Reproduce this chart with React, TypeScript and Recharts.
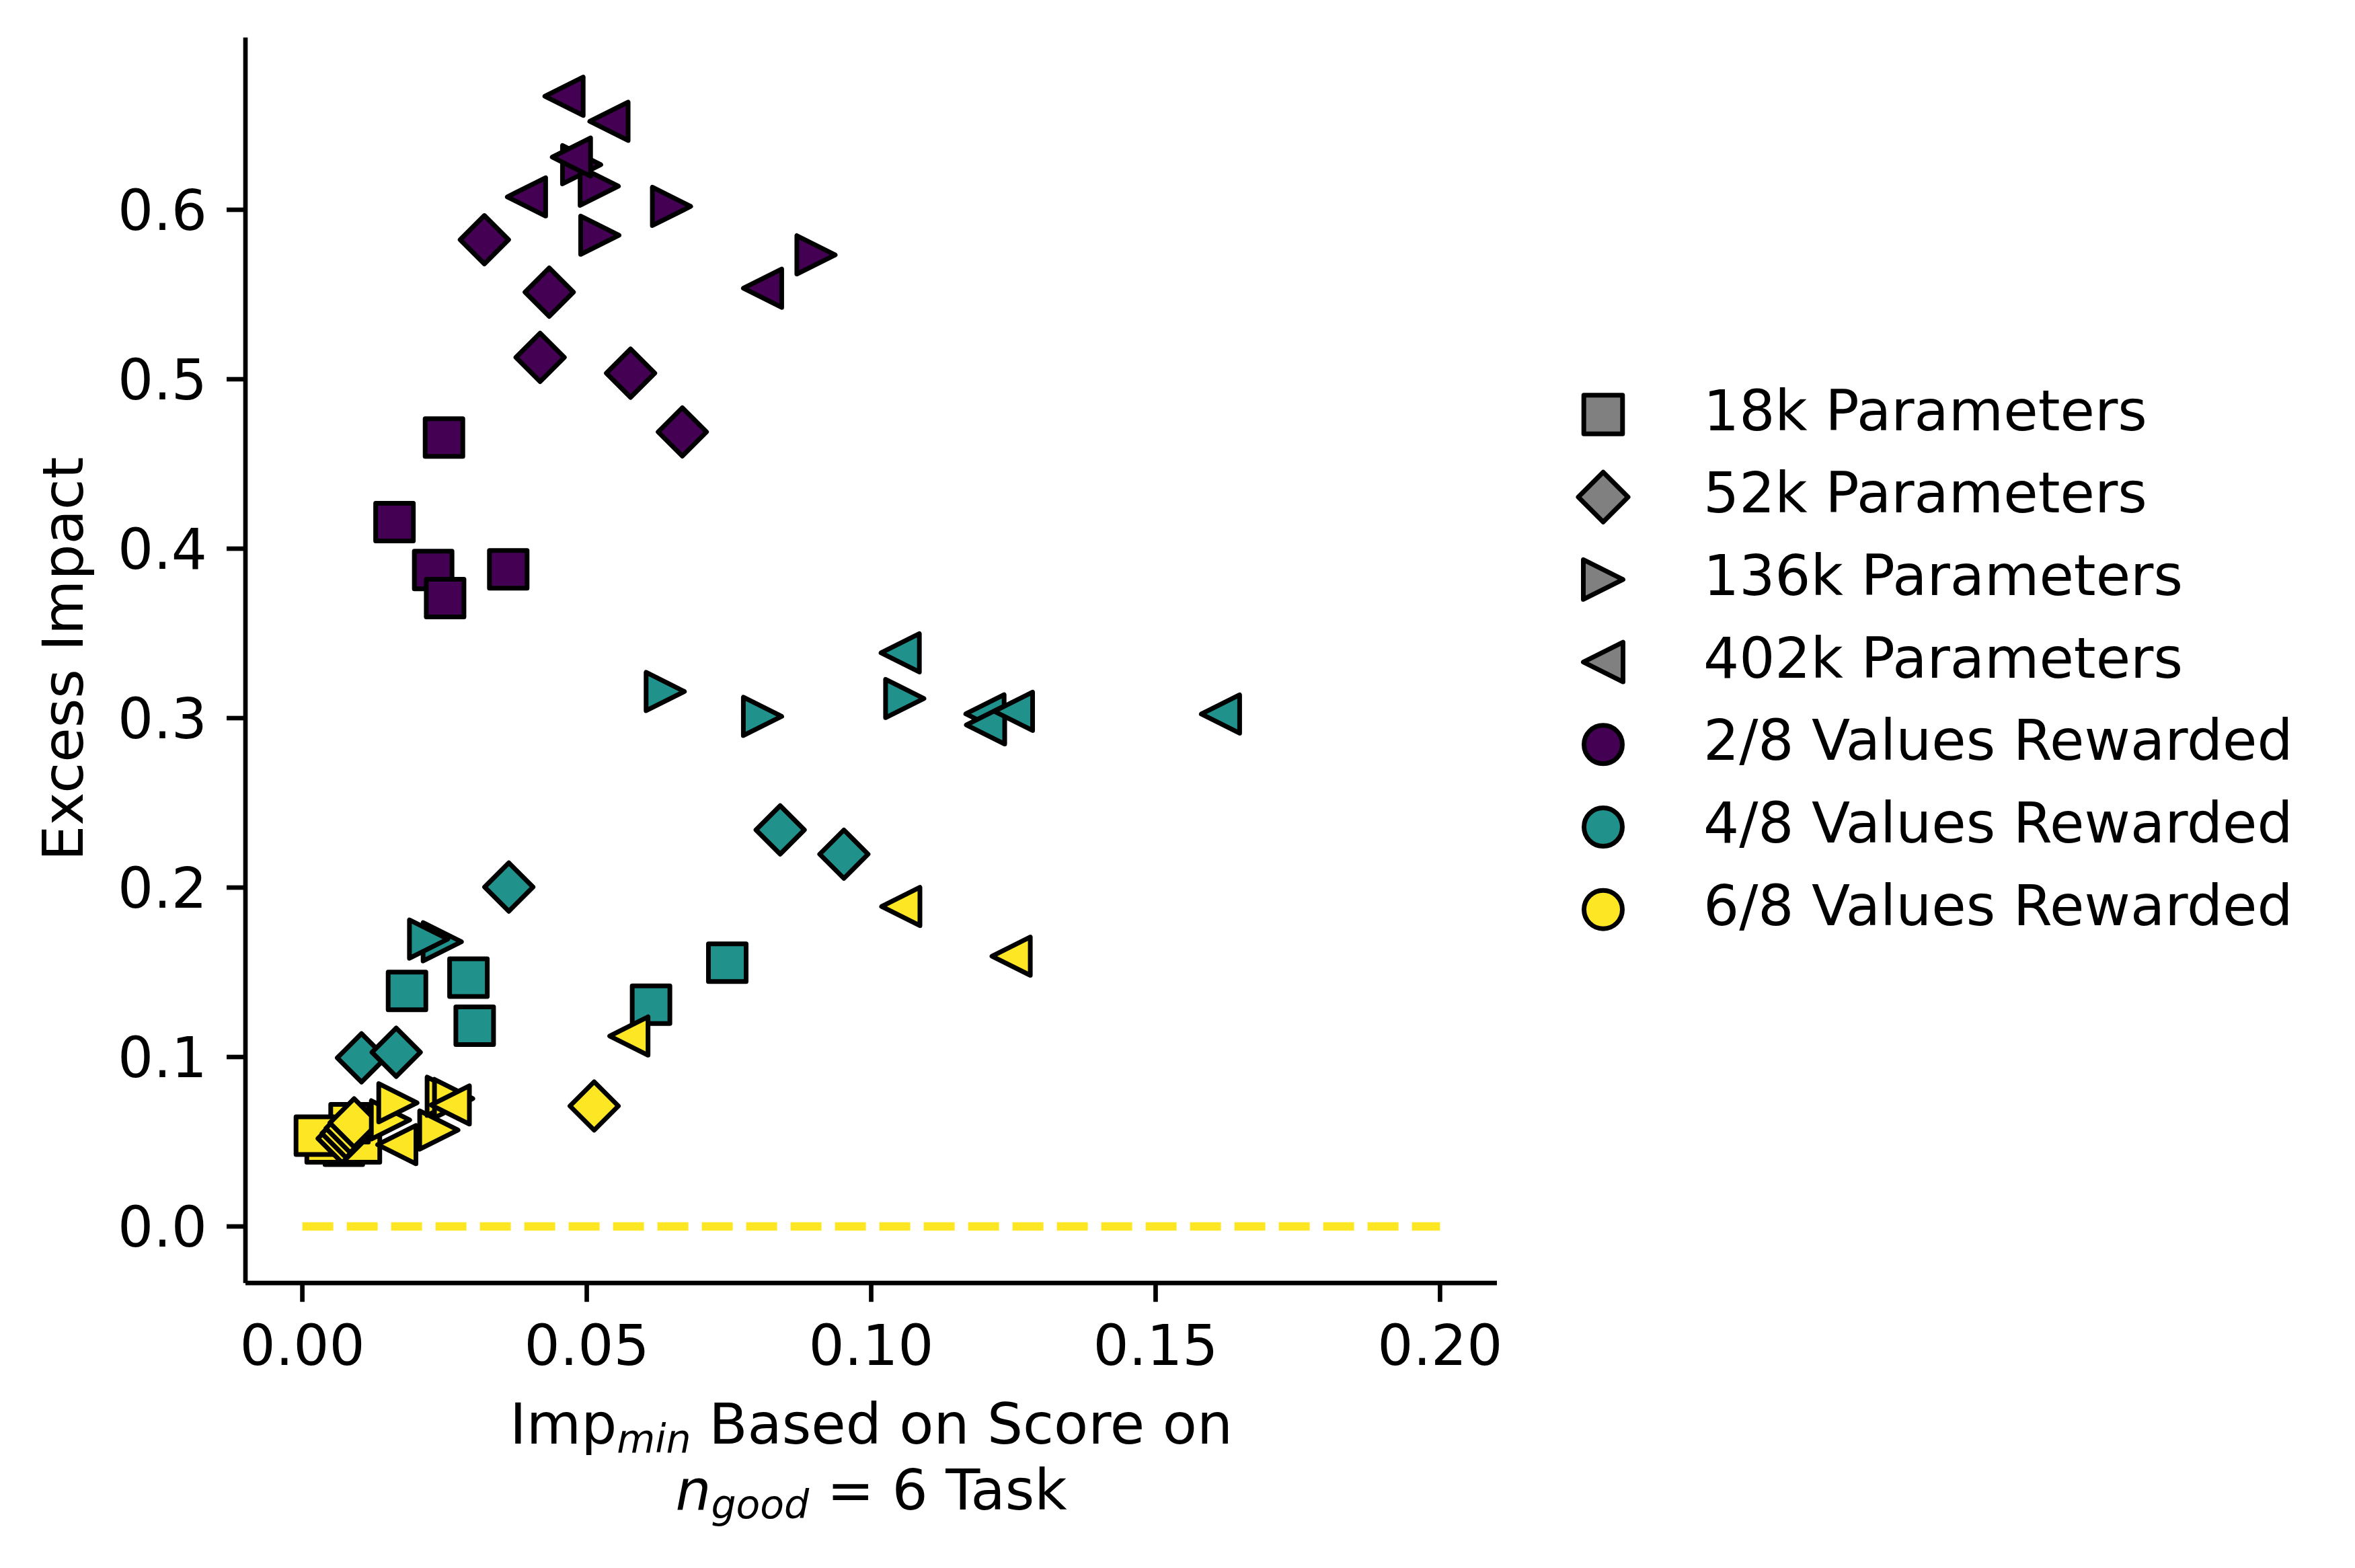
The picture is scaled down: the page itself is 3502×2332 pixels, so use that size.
import React from 'react';
import { ScatterChart, Scatter, XAxis, YAxis, ReferenceLine, Legend, Label } from 'recharts';

// ---- Axis setup ----
const xTicks = [0, 0.05, 0.1, 0.15, 0.2];
const yTicks = [0, 0.1, 0.2, 0.3, 0.4, 0.5, 0.6];
const xDomain: [number, number] = [-0.01, 0.21];
const yDomain: [number, number] = [-0.0334, 0.7017];

// ---- Categories ----
const rewardLabels = ['2/8 Values Rewarded', '4/8 Values Rewarded', '6/8 Values Rewarded'];
const rewardColors = ['#440154', '#21918c', '#fde725'];
const modelLabels = ['18k Parameters', '52k Parameters', '136k Parameters', '402k Parameters'];
const modelShapes = ['square', 'diamond', 'right', 'left'];

// ---- Data: [Imp_min, Excess Impact] ----
// 2/8 values rewarded
const r2_18k = [[0.0249, 0.4656], [0.0162, 0.4157], [0.0230, 0.3874], [0.0251, 0.3708], [0.0362, 0.3878]];
const r2_52k = [[0.0320, 0.5823], [0.0434, 0.5514], [0.0418, 0.5129], [0.0577, 0.5036], [0.0668, 0.4689]];
const r2_136k = [[0.0491, 0.6266], [0.0522, 0.6139], [0.0649, 0.6020], [0.0523, 0.5850], [0.0903, 0.5734]];
const r2_402k = [[0.0460, 0.6670], [0.0539, 0.6522], [0.0473, 0.6311], [0.0394, 0.6076], [0.0809, 0.5537]];
// 4/8 values rewarded
const r4_18k = [[0.0184, 0.1390], [0.0292, 0.1468], [0.0303, 0.1185], [0.0613, 0.1309], [0.0747, 0.1557]];
const r4_52k = [[0.0104, 0.0995], [0.0165, 0.1028], [0.0363, 0.2003], [0.0840, 0.2340], [0.0952, 0.2197]];
const r4_136k = [[0.0246, 0.1680], [0.0222, 0.1696], [0.0638, 0.3157], [0.0809, 0.3010], [0.1059, 0.3116]];
const r4_402k = [[0.1051, 0.3385], [0.1200, 0.3025], [0.1201, 0.2960], [0.1250, 0.3040], [0.1614, 0.3024]];
// 6/8 values rewarded
const r6_18k = [[0.0073, 0.0476], [0.0041, 0.0490], [0.0103, 0.0490], [0.0083, 0.0609], [0.0022, 0.0536]];
const r6_52k = [[0.0070, 0.0519], [0.0077, 0.0549], [0.0084, 0.0579], [0.0091, 0.0611], [0.0513, 0.0711]];
const r6_136k = [[0.0155, 0.0629], [0.0240, 0.0569], [0.0168, 0.0730], [0.0253, 0.0768], [0.0266, 0.0755]];
const r6_402k = [[0.0166, 0.0483], [0.0260, 0.0717], [0.0574, 0.1124], [0.1052, 0.1888], [0.1246, 0.1595]];

// Reference (zero) line
const zeroLineX = [0, 0.2];
const zeroLineY = 0;

const groups = [
  [r2_18k, r2_52k, r2_136k, r2_402k],
  [r4_18k, r4_52k, r4_136k, r4_402k],
  [r6_18k, r6_52k, r6_136k, r6_402k],
];

const FONT = 'DejaVu Sans';
const FS = 83.6;
const EDGE = 7;

function markerEl(kind: string, cx: number, cy: number, fill: string, big = false, key?: string) {
  const s = big ? 28.8 : 28;
  const r = big ? 29.5 : 28.5;
  const d = big ? 37 : 36;
  const common = { fill, stroke: '#000', strokeWidth: EDGE, strokeLinejoin: 'round' as const };
  if (kind === 'square') {
    return <rect key={key} x={cx - s} y={cy - s} width={2 * s} height={2 * s} {...common} />;
  }
  if (kind === 'diamond') {
    return <polygon key={key} points={`${cx},${cy - d} ${cx + d},${cy} ${cx},${cy + d} ${cx - d},${cy}`} {...common} />;
  }
  if (kind === 'right') {
    return <polygon key={key} points={`${cx + r},${cy} ${cx - r},${cy - r} ${cx - r},${cy + r}`} {...common} />;
  }
  if (kind === 'left') {
    return <polygon key={key} points={`${cx - r},${cy} ${cx + r},${cy - r} ${cx + r},${cy + r}`} {...common} />;
  }
  return <circle key={key} cx={cx} cy={cy} r={28.5} {...common} />;
}

const makeShape = (kind: string, fill: string) => (props: any) => {
  const { cx, cy } = props;
  if (cx == null || cy == null) return <g />;
  return markerEl(kind, cx, cy, fill);
};

function LegendContent() {
  const items: { kind: string; color: string; label: string }[] = [];
  modelLabels.forEach((l, i) => items.push({ kind: modelShapes[i], color: '#808080', label: l }));
  rewardLabels.forEach((l, i) => items.push({ kind: 'circle', color: rewardColors[i], label: l }));
  return (
    <svg width={1150} height={880} style={{ overflow: 'visible' }}>
      {items.map((it, i) => {
        const cy = 68.5 + i * 122.7;
        return (
          <g key={i}>
            {markerEl(it.kind, 76, cy, it.color, true)}
            <text x={225} y={cy + 23} fontFamily={FONT} fontSize={FS} fill="#000">
              {it.label}
            </text>
          </g>
        );
      })}
    </svg>
  );
}

const XLabel = () => (
  <g>
    <text x={1287.5} y={2139.3} textAnchor="middle" fontFamily={FONT} fontSize={FS} fill="#000">
      <tspan>Imp</tspan>
      <tspan fontStyle="italic" fontSize={58.5} dy={13}>min</tspan>
      <tspan dy={-13}> Based on Score on</tspan>
    </text>
    <text x={1287.5} y={2237} textAnchor="middle" fontFamily={FONT} fontSize={FS} fill="#000">
      <tspan fontStyle="italic">n</tspan>
      <tspan fontStyle="italic" fontSize={58.5} dy={13}>good</tspan>
      <tspan dy={-13}> = 6 Task</tspan>
    </text>
  </g>
);

const YLabel = () => (
  <text
    x={115}
    y={972}
    transform="rotate(-90 115 972)"
    textAnchor="middle"
    fontFamily={FONT}
    fontSize={FS}
    fill="#000"
  >
    Excess Impact
  </text>
);

export default function App() {
  const W = 3494;
  const H = 2316;
  const plotTop = 47.7;
  const plotBottom = 1900.2;
  const xAxisH = 200;
  const series: any[] = [];
  groups.forEach((g, ci) => {
    g.forEach((arr, mi) => {
      series.push({
        key: `s-${ci}-${mi}`,
        data: arr.map(([x, y]) => ({ x, y })),
        color: rewardColors[ci],
        kind: modelShapes[mi],
      });
    });
  });
  return (
    <div style={{ width: W, height: H, background: '#fff' }}>
      <ScatterChart
        width={W}
        height={H}
        margin={{ top: plotTop, right: 1276, bottom: H - plotBottom - xAxisH, left: 57 }}
        style={{ fontFamily: FONT }}
      >
        <XAxis
          type="number"
          dataKey="x"
          domain={xDomain}
          ticks={xTicks}
          allowDataOverflow
          height={xAxisH}
          tickFormatter={(v: number) => v.toFixed(2)}
          tick={{ fontSize: FS, fill: '#000', fontFamily: FONT }}
          tickSize={28}
          tickMargin={34}
          axisLine={{ stroke: '#000', strokeWidth: 6.7 }}
          tickLine={{ stroke: '#000', strokeWidth: 6.7 }}
          interval={0}
        >
          <Label content={XLabel} />
        </XAxis>
        <YAxis
          type="number"
          dataKey="y"
          domain={yDomain}
          ticks={yTicks}
          allowDataOverflow
          width={300}
          tickFormatter={(v: number) => v.toFixed(1)}
          tick={{ fontSize: FS, fill: '#000', fontFamily: FONT }}
          tickSize={28}
          tickMargin={29}
          axisLine={{ stroke: '#000', strokeWidth: 6.7 }}
          tickLine={{ stroke: '#000', strokeWidth: 6.7 }}
          interval={0}
        >
          <Label content={YLabel} />
        </YAxis>
        <ReferenceLine
          segment={[{ x: zeroLineX[0], y: zeroLineY }, { x: zeroLineX[1], y: zeroLineY }]}
          stroke="#fde725"
          strokeWidth={12.5}
          strokeDasharray="46 20"
          ifOverflow="visible"
        />
        {series.map((s) => (
          <Scatter
            key={s.key}
            data={s.data}
            shape={makeShape(s.kind, s.color)}
            isAnimationActive={false}
            legendType="none"
          />
        ))}
        <Legend
          layout="vertical"
          align="center"
          verticalAlign="middle"
          wrapperStyle={{ left: 2300, top: 540, width: 1150, height: 880 }}
          content={() => <LegendContent />}
        />
      </ScatterChart>
    </div>
  );
}
